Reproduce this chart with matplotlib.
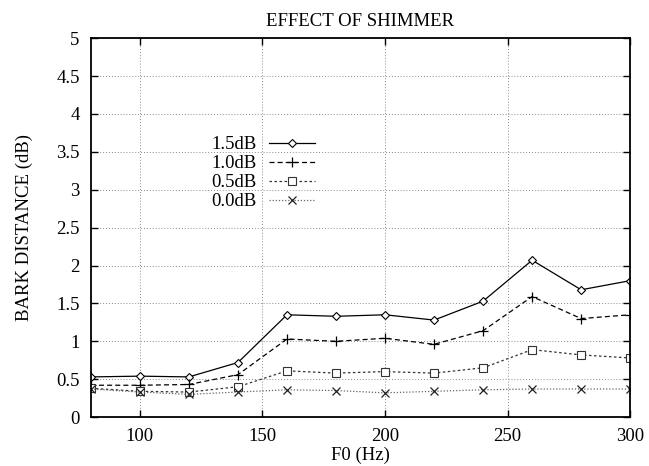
import matplotlib
matplotlib.use("Agg")
import matplotlib.pyplot as plt
from matplotlib.legend_handler import HandlerLine2D

f0 = [80, 100, 120, 140, 160, 180, 200, 220, 240, 260, 280, 300]
labels = ["1.5dB", "1.0dB", "0.5dB", "0.0dB"]
s15 = [0.53, 0.54, 0.53, 0.72, 1.35, 1.33, 1.35, 1.28, 1.53, 2.07, 1.68, 1.80]
s10 = [0.42, 0.42, 0.43, 0.56, 1.03, 1.00, 1.04, 0.96, 1.14, 1.59, 1.30, 1.35]
s05 = [0.38, 0.34, 0.33, 0.40, 0.61, 0.58, 0.60, 0.58, 0.65, 0.89, 0.82, 0.78]
s00 = [0.37, 0.33, 0.30, 0.33, 0.36, 0.35, 0.32, 0.34, 0.36, 0.37, 0.37, 0.37]
xticks = [100, 150, 200, 250, 300]
yticks = [0, 0.5, 1, 1.5, 2, 2.5, 3, 3.5, 4, 4.5, 5]
ytick_labels = ["0", "0.5", "1", "1.5", "2", "2.5", "3", "3.5", "4", "4.5", "5"]

plt.rcParams['font.family'] = ['Liberation Serif', 'DejaVu Serif']
FS = 13.5


class LeftMarkerHandler(HandlerLine2D):
    def get_xdata(self, legend, xdescent, ydescent, width, height, fontsize):
        xdata = [-xdescent, -xdescent + width]
        xdata_marker = [-xdescent + 0.32 * width]
        return xdata, xdata_marker


fig = plt.figure(figsize=(6.49, 4.66), dpi=100)
ax = fig.add_axes([0.140, 0.105, 0.831, 0.813])

l1, = ax.plot(f0, s15, color='black', lw=0.9, ls='-', marker='D', ms=4.5,
              mfc='white', mec='black', mew=0.8, label=labels[0])
l2, = ax.plot(f0, s10, color='black', lw=0.9, ls=(0, (4, 2.5)), marker='+', ms=7,
              mew=0.9, label=labels[1])
l3, = ax.plot(f0, s05, color='#333333', lw=0.9, ls=(0, (2, 2)), marker='s', ms=6,
              mfc='white', mec='#333333', mew=0.8, label=labels[2])
l4, = ax.plot(f0, s00, color='#666666', lw=0.9, ls=(0, (1, 1.5)), marker='x', ms=5.5,
              mew=0.9, mec='#222222', label=labels[3])

ax.set_xlim(80, 300)
ax.set_ylim(0, 5)
ax.set_xticks(xticks)
ax.set_yticks(yticks)
ax.set_yticklabels(ytick_labels)
ax.tick_params(direction='in', top=True, right=True, labelsize=FS,
               length=5, width=1.0, pad=8)
ax.grid(True, color='#8a8a8a', ls=(0, (1, 2)), lw=0.7)
for sp in ax.spines.values():
    sp.set_linewidth(1.3)

ax.set_title("EFFECT OF SHIMMER", fontsize=FS, pad=9)
ax.set_xlabel("F0 (Hz)", fontsize=FS, labelpad=1)
ax.set_ylabel("BARK DISTANCE (dB)", fontsize=FS, labelpad=17)

hm = {h: LeftMarkerHandler() for h in (l1, l2, l3, l4)}
leg = ax.legend(loc='upper left', bbox_to_anchor=(0.223, 0.741), frameon=False,
                markerfirst=False, fontsize=FS, handlelength=2.5,
                labelspacing=0.1, handletextpad=0.65, borderaxespad=0,
                borderpad=0, handler_map=hm)

fig.savefig("out.png", dpi=100)
